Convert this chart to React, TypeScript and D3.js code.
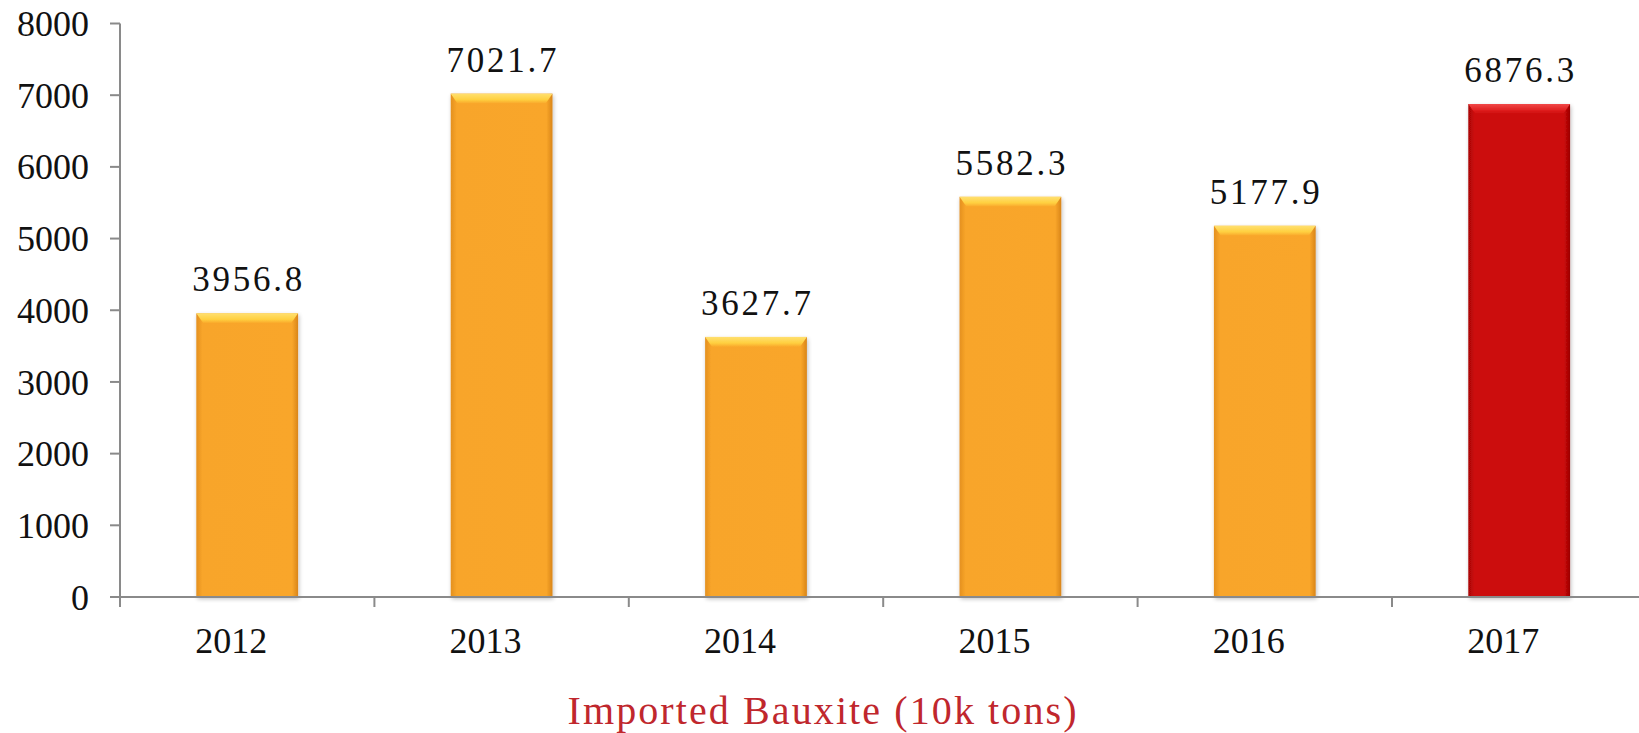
import React from 'react';
import * as d3 from 'd3';

const years = ['2012', '2013', '2014', '2015', '2016', '2017'];
const values = [3956.8, 7021.7, 3627.7, 5582.3, 5177.9, 6876.3];
const highlight = [false, false, false, false, false, true];
const yTicks = [0, 1000, 2000, 3000, 4000, 5000, 6000, 7000, 8000];
const axisTitle = 'Imported Bauxite (10k tons)';

const W = 1639;
const H = 733;

export default function App() {
  const x0 = 120;
  const band = 254.4;
  const x = d3
    .scaleBand<string>()
    .domain(years)
    .range([x0, x0 + band * years.length])
    .paddingInner(0.6)
    .paddingOuter(0.3);
  const y = d3.scaleLinear().domain([0, 8000]).range([597, 23.5]);
  const bw = x.bandwidth();
  const axisColor = '#8a8a8a';
  const serif = '"Liberation Serif", "Times New Roman", serif';

  return (
    <svg
      width={W}
      height={H}
      style={{ position: 'absolute', left: 0, top: 0, background: '#fff' }}
    >
      <defs>
        <linearGradient id="orSide" x1="0" x2="1" y1="0" y2="0">
          <stop offset="0" stopColor="#e4901e" />
          <stop offset="0.06" stopColor="#f8a52a" />
          <stop offset="0.94" stopColor="#f9a62a" />
          <stop offset="1" stopColor="#d98518" />
        </linearGradient>
        <linearGradient id="orTop" x1="0" x2="0" y1="0" y2="1">
          <stop offset="0" stopColor="#ffe070" />
          <stop offset="0.6" stopColor="#ffd040" />
          <stop offset="1" stopColor="#f9a62a" />
        </linearGradient>
        <linearGradient id="rdSide" x1="0" x2="1" y1="0" y2="0">
          <stop offset="0" stopColor="#a80606" />
          <stop offset="0.06" stopColor="#cc0808" />
          <stop offset="0.94" stopColor="#cc0808" />
          <stop offset="1" stopColor="#9a0404" />
        </linearGradient>
        <linearGradient id="rdTop" x1="0" x2="0" y1="0" y2="1">
          <stop offset="0" stopColor="#f04848" />
          <stop offset="0.6" stopColor="#e02222" />
          <stop offset="1" stopColor="#cc0808" />
        </linearGradient>
        <filter id="shadow" x="-20%" y="-5%" width="140%" height="115%">
          <feGaussianBlur in="SourceAlpha" stdDeviation="2" />
          <feOffset dx="1" dy="2" result="b" />
          <feComponentTransfer>
            <feFuncA type="linear" slope="0.25" />
          </feComponentTransfer>
          <feMerge>
            <feMergeNode />
            <feMergeNode in="SourceGraphic" />
          </feMerge>
        </filter>
      </defs>

      {/* bars */}
      {years.map((yr, i) => {
        const bx = x(yr)!;
        const top = y(values[i]);
        const h = y(0) - top;
        const red = highlight[i];
        return (
          <g key={yr} filter="url(#shadow)">
            <rect
              x={bx}
              y={top}
              width={bw}
              height={h}
              fill={red ? 'url(#rdSide)' : 'url(#orSide)'}
            />
            <path
              d={`M${bx},${top} L${bx + bw},${top} L${bx + bw - 7},${top + 10} L${bx + 7},${top + 10} Z`}
              fill={red ? 'url(#rdTop)' : 'url(#orTop)'}
            />
          </g>
        );
      })}

      {/* value labels */}
      {years.map((yr, i) => {
        const label = values[i].toFixed(1);
        return (
          <text
            key={'v' + yr}
            x={x(yr)! + bw / 2}
            y={y(values[i]) - 22}
            textAnchor="middle"
            fontFamily={serif}
            fontSize={35}
            fill="#111"
            textLength={110}
            lengthAdjust="spacing"
          >
            {label}
          </text>
        );
      })}

      {/* y axis */}
      <line x1={x0} x2={x0} y1={y(8000)} y2={y(0)} stroke={axisColor} strokeWidth={2} />
      {yTicks.map((t) => (
        <g key={'t' + t}>
          <line x1={x0 - 10} x2={x0} y1={y(t)} y2={y(t)} stroke={axisColor} strokeWidth={2} />
          <text
            x={89}
            y={y(t)}
            dy="0.35em"
            textAnchor="end"
            fontFamily={serif}
            fontSize={36}
            fill="#111"
          >
            {t}
          </text>
        </g>
      ))}

      {/* x axis */}
      <line x1={x0 - 5} x2={x0 + band * years.length} y1={y(0)} y2={y(0)} stroke={axisColor} strokeWidth={2} />
      {d3.range(years.length + 1).map((k) => (
        <line
          key={'xt' + k}
          x1={x0 + band * k}
          x2={x0 + band * k}
          y1={y(0)}
          y2={y(0) + 10}
          stroke={axisColor}
          strokeWidth={2}
        />
      ))}
      {years.map((yr) => (
        <text
          key={'c' + yr}
          x={x(yr)! + bw / 2 - 16}
          y={653}
          textAnchor="middle"
          fontFamily={serif}
          fontSize={36}
          fill="#111"
        >
          {yr}
        </text>
      ))}

      {/* axis title */}
      <text
        x={822}
        y={724}
        textAnchor="middle"
        fontFamily={serif}
        fontSize={40}
        fill="#c0272d"
        textLength={509}
        lengthAdjust="spacing"
      >
        {axisTitle}
      </text>
    </svg>
  );
}
